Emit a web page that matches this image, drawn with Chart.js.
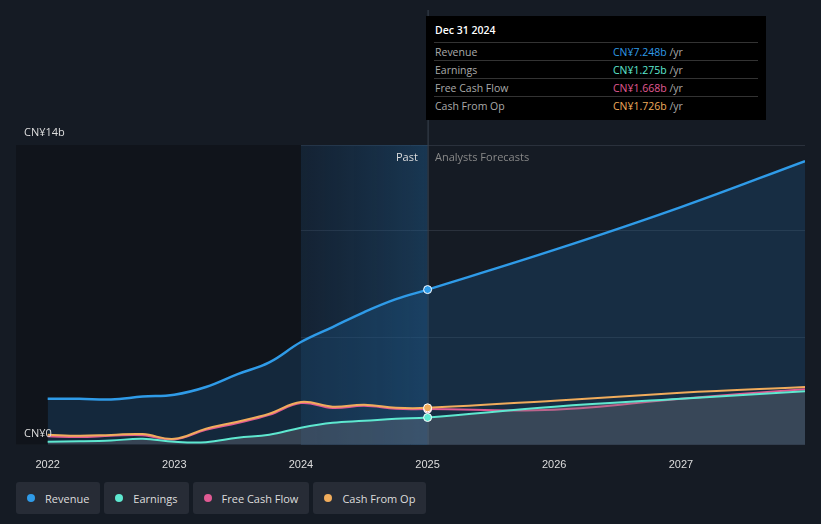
<!DOCTYPE html>
<html><head><meta charset="utf-8">
<script src="https://cdn.jsdelivr.net/npm/chart.js@4/dist/chart.umd.min.js"></script>
<style>
body{margin:0;background:#151b24;font-family:"Open Sans",sans-serif;width:821px;height:524px;overflow:hidden;position:relative}
#wrap{position:absolute;left:0;top:0;width:821px;height:478px}
#tip{position:absolute;left:426px;top:16px;width:340px;height:104px;background:#000;color:#fff;font-size:10.5px}
#tip .h{padding:7px 9px 2px;font-weight:600;height:17px}
#tip .r{display:flex;border-top:1px solid #333;margin:0 8px;height:17px;align-items:center;color:#aaa}
#tip .r span:first-child{width:178px;padding-left:1px}
#legend{position:absolute;top:482px;left:16px;display:flex;gap:4px}
.lg{background:#272c36;color:#ddd;font-size:11px;height:32px;display:flex;align-items:center;padding:0 11px;border-radius:3px}
.dot{width:8px;height:8px;border-radius:50%;margin-right:10px}
.lab{position:absolute;color:#ddd;font-size:11px}
</style></head><body>
<div id="wrap"><canvas id="c" width="821" height="478"></canvas></div>
<div class="lab" style="left:24px;top:124px">CN¥14b</div>
<div class="lab" style="left:24px;top:425px">CN¥0</div>
<div class="lab" style="left:396px;top:149px">Past</div>
<div class="lab" style="left:435px;top:149px;color:#888">Analysts Forecasts</div>
<div id="tip"><div class="h">Dec 31 2024</div>
<div class="r"><span>Revenue</span><span style="color:#2f9be8">CN¥7.248b</span>&nbsp;/yr</div>
<div class="r"><span>Earnings</span><span style="color:#5ee8d0">CN¥1.275b</span>&nbsp;/yr</div>
<div class="r"><span>Free Cash Flow</span><span style="color:#e05a93">CN¥1.668b</span>&nbsp;/yr</div>
<div class="r"><span>Cash From Op</span><span style="color:#f0ac5c">CN¥1.726b</span>&nbsp;/yr</div></div>
<div id="legend">
<div class="lg"><span class="dot" style="background:#2f9be8"></span>Revenue</div>
<div class="lg"><span class="dot" style="background:#5ee8d0"></span>Earnings</div>
<div class="lg"><span class="dot" style="background:#e05a93"></span>Free Cash Flow</div>
<div class="lg"><span class="dot" style="background:#f0ac5c"></span>Cash From Op</div>
</div>
<script>
const years=[2022,2022.25,2022.5,2022.75,2023,2023.25,2023.5,2023.75,2024,2024.25,2024.5,2024.75,2025,2026,2027,2027.98];
const revenue=[2.15,2.15,2.12,2.25,2.34,2.7,3.3,3.85,4.8,5.5,6.2,6.8,7.248,9.1,11.1,13.25];
const earnings=[0.14,0.16,0.2,0.28,0.14,0.12,0.33,0.47,0.8,1.03,1.12,1.22,1.275,1.78,2.15,2.5];
const fcf=[0.4,0.36,0.42,0.45,0.25,0.7,1.02,1.4,1.95,1.72,1.82,1.68,1.668,1.64,2.15,2.6];
const cfo=[0.47,0.42,0.46,0.5,0.28,0.75,1.08,1.45,2.0,1.78,1.87,1.73,1.726,2.06,2.43,2.7];
const pts=a=>a.map((v,i)=>({x:years[i],y:v}));
const bg={id:'bg',beforeDatasetsDraw(ch){const {ctx,chartArea:a,scales:{x}}=ch;
 const x0=x.getPixelForValue(2024),x1=x.getPixelForValue(2025);
 ctx.save();ctx.fillStyle='#10141b';ctx.fillRect(a.left,a.top,x0-a.left,a.bottom-a.top);
 const g=ctx.createLinearGradient(x0,0,x1,0);g.addColorStop(0,'rgba(20,60,100,0.25)');g.addColorStop(1,'rgba(30,90,140,0.45)');
 ctx.fillStyle=g;ctx.fillRect(x0,a.top,x1-x0,a.bottom-a.top);
 ctx.strokeStyle='#3a4350';ctx.beginPath();ctx.moveTo(x1+0.5,10);ctx.lineTo(x1+0.5,a.bottom);ctx.stroke();ctx.restore();}};
const ds=(l,d,c,fill,fc)=>({label:l,data:pts(d),borderColor:c,borderWidth:l=='Revenue'?2.5:2,fill:fill,backgroundColor:fc,tension:0.4,
 pointRadius:d.map((v,i)=>years[i]==2025?4:0),pointBackgroundColor:c,pointBorderColor:'#fff',pointBorderWidth:1});
new Chart(document.getElementById('c'),{type:'line',
 data:{datasets:[ds('Earnings',earnings,'#5ee8d0','origin','rgba(120,120,130,0.35)'),ds('Cash From Op',cfo,'#f0ac5c',false),ds('Free Cash Flow',fcf,'#e05a93',false),ds('Revenue',revenue,'#2f9be8','origin','rgba(30,90,140,0.3)')]},
 options:{responsive:false,animation:false,layout:{padding:{left:16,right:16,top:145}},
 plugins:{legend:{display:false},tooltip:{enabled:false}},
 scales:{x:{type:'linear',min:2021.75,max:2027.98,grid:{display:false},border:{display:false},
  afterBuildTicks(s){s.ticks=[2022,2023,2024,2025,2026,2027].map(v=>({value:v}))},
  ticks:{color:'#ddd',font:{size:11},callback:v=>String(v),padding:6}},
 y:{min:0,max:14,position:'left',afterFit(s){s.width=0},afterBuildTicks(s){s.ticks=[0,5,10,14].map(v=>({value:v}))},
  ticks:{display:false},grid:{color:'#2a313c',drawTicks:false},border:{display:false}}}},
 plugins:[bg]});
</script></body></html>
